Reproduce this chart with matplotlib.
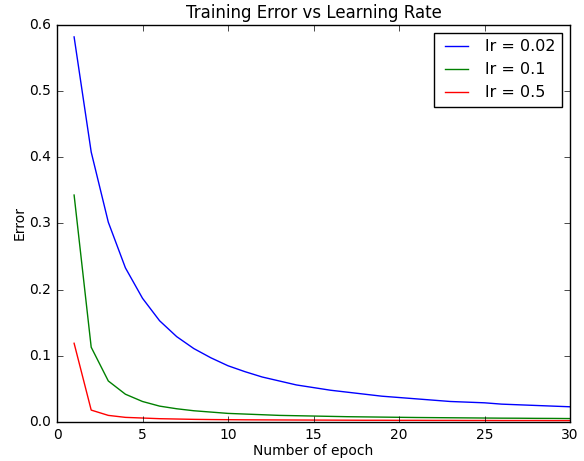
import numpy as np
import matplotlib
matplotlib.use("Agg")
import matplotlib.pyplot as plt

plt.style.use('classic')

# epochs 1..30
epochs = list(range(1, 31))

err_lr002 = [0.582, 0.408, 0.302, 0.233, 0.187, 0.153, 0.129, 0.111, 0.097, 0.085,
             0.076, 0.068, 0.062, 0.056, 0.052, 0.048, 0.045, 0.042, 0.039, 0.037,
             0.035, 0.033, 0.031, 0.030, 0.029, 0.027, 0.026, 0.025, 0.024, 0.023]
err_lr01 = [0.343, 0.113, 0.062, 0.042, 0.031, 0.024, 0.020, 0.017, 0.015, 0.013,
            0.012, 0.011, 0.010, 0.0095, 0.009, 0.0085, 0.008, 0.0077, 0.0074, 0.0071,
            0.0068, 0.0066, 0.0064, 0.0062, 0.006, 0.0058, 0.0057, 0.0055, 0.0054, 0.0052]
err_lr05 = [0.119, 0.018, 0.010, 0.007, 0.006, 0.005, 0.0045, 0.004, 0.0037, 0.0035,
            0.0033, 0.0032, 0.0031, 0.003, 0.0029, 0.0028, 0.0027, 0.0026, 0.0026, 0.0025,
            0.0025, 0.0024, 0.0024, 0.0023, 0.0023, 0.0022, 0.0022, 0.0022, 0.0021, 0.0021]

labels = ['lr = 0.02', 'lr = 0.1', 'lr = 0.5']

fig = plt.figure(figsize=(5.84, 4.61), dpi=100)
ax = fig.add_axes([57/584, 1 - 422/461, (570-57)/584, (422-25)/461])

ax.plot(epochs, err_lr002, color='b', label=labels[0])
ax.plot(epochs, err_lr01, color='g', label=labels[1])
ax.plot(epochs, err_lr05, color='r', label=labels[2])

ax.set_xlim(0, 30)
ax.set_ylim(0, 0.6)
ax.set_title("Training Error vs Learning Rate", fontsize=12)
ax.set_xlabel("Number of epoch", fontsize=10, labelpad=2)
ax.set_ylabel("Error", fontsize=10, labelpad=2)
ax.tick_params(labelsize=10)
ax.legend(fontsize=11.5)

fig.savefig("out.png", dpi=100)
